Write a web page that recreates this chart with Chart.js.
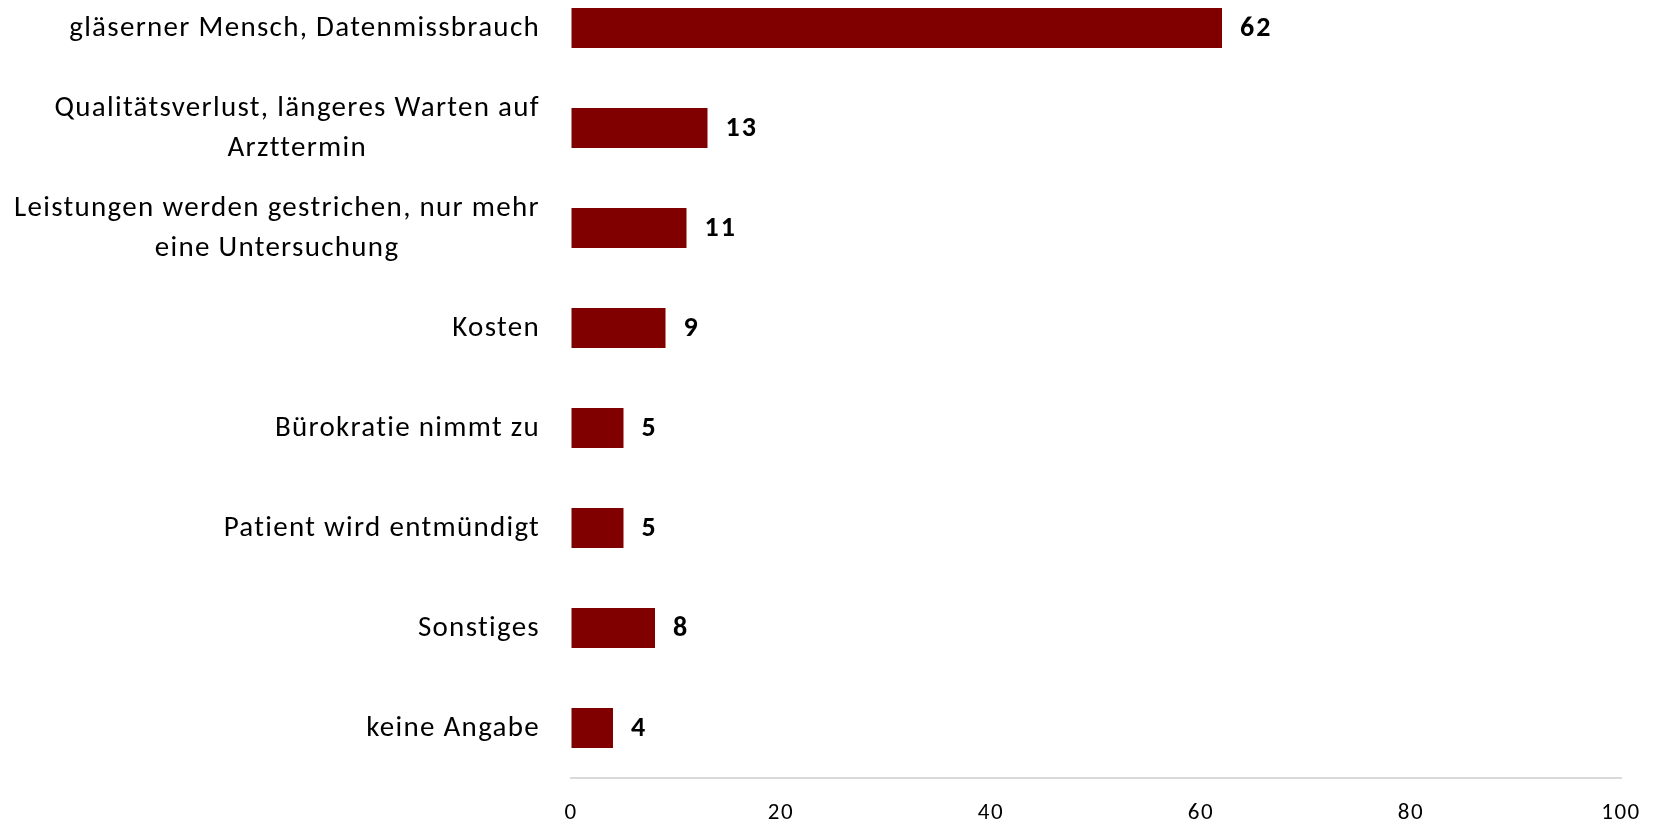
<!DOCTYPE html>
<html lang="de">
<head>
<meta charset="utf-8">
<title>Befürchtungen</title>
<script src="https://cdn.jsdelivr.net/npm/chart.js@4/dist/chart.umd.min.js"></script>
<style>
  html, body { margin: 0; padding: 0; background: #ffffff; overflow: hidden; }
  body { width: 1661px; height: 828px; position: relative; }
  #wrap { position: absolute; left: 0; top: -22px; width: 1661px; height: 850px; }
</style>
</head>
<body>
<div id="wrap"><canvas id="chart" width="1661" height="850"></canvas></div>
<script>
// Antworten (Kategorien) und Anteile in Prozent
const categories = [
  'gläserner Mensch, Datenmissbrauch',
  ['Qualitätsverlust, längeres Warten auf', 'Arzttermin'],
  ['Leistungen werden gestrichen, nur mehr', 'eine Untersuchung'],
  'Kosten',
  'Bürokratie nimmt zu',
  'Patient wird entmündigt',
  'Sonstiges',
  'keine Angabe'
];
const values = [62, 13, 11, 9, 5, 5, 8, 4];
const xTicks = [0, 20, 40, 60, 80, 100];

const FONT = '"Carlito", "Lato", "Open Sans", sans-serif';
const BAR_COLOR = '#800000';

// Abstand zwischen den Buchstaben der Achsenbeschriftung
const tickSpacing = {
  id: 'tickSpacing',
  beforeDraw(chart) {
    chart.ctx.letterSpacing = '1.5px';
  }
};

// Kategorienbeschriftung: Block rechtsbündig, Zeilen darin zentriert
const categoryLabels = {
  id: 'categoryLabels',
  afterDraw(chart) {
    const ctx = chart.ctx;
    const yScale = chart.scales.y;
    const rightEdge = yScale.right - 31;
    const lineHeight = 40;
    ctx.save();
    ctx.font = '29px ' + FONT;
    ctx.letterSpacing = '1.3px';
    ctx.fillStyle = '#000000';
    ctx.textAlign = 'center';
    ctx.textBaseline = 'middle';
    categories.forEach((label, i) => {
      const lines = Array.isArray(label) ? label : [label];
      const blockWidth = Math.max(...lines.map(l => ctx.measureText(l).width));
      const cx = rightEdge - blockWidth / 2;
      const cy = yScale.getPixelForTick(i);
      lines.forEach((line, j) => {
        ctx.fillText(line, cx, cy + (j - (lines.length - 1) / 2) * lineHeight + 1);
      });
    });
    ctx.restore();
  }
};

// Wert rechts neben jedem Balken, fett
const valueLabels = {
  id: 'valueLabels',
  afterDatasetsDraw(chart) {
    const ctx = chart.ctx;
    const meta = chart.getDatasetMeta(0);
    ctx.save();
    ctx.font = 'bold 28px ' + FONT;
    ctx.letterSpacing = '2px';
    ctx.fillStyle = '#000000';
    ctx.textAlign = 'left';
    ctx.textBaseline = 'middle';
    meta.data.forEach((bar, i) => {
      ctx.fillText(String(values[i]), bar.x + 18, bar.y + 1);
    });
    ctx.restore();
  }
};

new Chart(document.getElementById('chart'), {
  type: 'bar',
  data: {
    labels: categories,
    datasets: [{
      data: values,
      backgroundColor: BAR_COLOR,
      borderWidth: 0,
      barPercentage: 0.4,
      categoryPercentage: 1.0
    }]
  },
  options: {
    indexAxis: 'y',
    responsive: false,
    animation: false,
    layout: { padding: { left: 0, right: 40, top: 0, bottom: 0 } },
    plugins: {
      legend: { display: false },
      tooltip: { enabled: false }
    },
    scales: {
      x: {
        min: 0,
        max: 100,
        afterBuildTicks(scale) {
          scale.ticks = xTicks.map(v => ({ value: v }));
        },
        afterFit(scale) {
          scale.height = 50;
          scale.paddingLeft = 0;
          scale.paddingRight = 0;
        },
        grid: { drawOnChartArea: false, drawTicks: false },
        border: { display: true, color: '#d9d9d9', width: 2 },
        ticks: {
          color: '#000000',
          padding: 21,
          maxRotation: 0,
          font: { family: FONT, size: 23 }
        }
      },
      y: {
        afterFit(scale) {
          scale.width = 571;
          scale.paddingTop = 0;
          scale.paddingBottom = 0;
        },
        grid: { display: false, drawTicks: false },
        border: { display: false },
        ticks: { display: false }
      }
    }
  },
  plugins: [tickSpacing, categoryLabels, valueLabels]
});
</script>
</body>
</html>
